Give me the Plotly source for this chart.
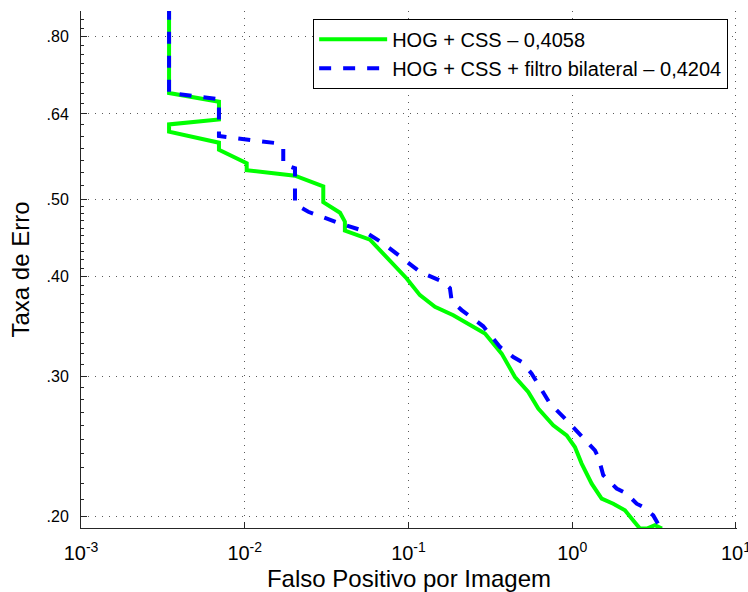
import plotly.graph_objects as go

# Miss-rate vs. false-positives-per-image curves (log-log)
hog_css_fppi = [0.00345, 0.00345, 0.00696, 0.00696, 0.00345, 0.00345, 0.00696, 0.00696,
                0.01028, 0.01028, 0.02027, 0.03018, 0.03018, 0.0382, 0.0409, 0.0409,
                0.0582, 0.0736, 0.0975, 0.1175, 0.1451, 0.1878, 0.2932, 0.3709, 0.4472,
                0.539, 0.6205, 0.766, 0.925, 1.039, 1.142, 1.315, 1.513, 1.781, 2.099,
                2.36, 2.593, 2.86, 3.20, 3.532]
hog_css_miss = [1.0, 0.680, 0.663, 0.630, 0.621, 0.608, 0.589, 0.577,
                0.555, 0.544, 0.5355, 0.519, 0.496, 0.481, 0.4688, 0.4567,
                0.445, 0.4234, 0.3978, 0.379, 0.3664, 0.3577, 0.3392, 0.3201, 0.2992,
                0.2865, 0.2731, 0.2602, 0.2527, 0.2443, 0.2329, 0.2198, 0.2105, 0.2074, 0.2035,
                0.1976, 0.193, 0.193, 0.1949, 0.193]

bilateral_fppi = [0.00345, 0.00345, 0.00696, 0.00696, 0.01603, 0.01719, 0.01719, 0.02027,
                  0.02027, 0.02444, 0.0382, 0.053, 0.0702, 0.0930, 0.1175, 0.1632, 0.1792,
                  0.1836, 0.2113, 0.2862, 0.362, 0.4365, 0.4913, 0.5655, 0.7314, 0.925,
                  1.168, 1.377, 1.443, 1.548, 1.868, 2.150, 2.475, 2.716, 3.126, 3.435]
bilateral_miss = [1.0, 0.680, 0.668, 0.6005, 0.5878, 0.580, 0.5535, 0.547,
                  0.493, 0.4824, 0.4664, 0.4565, 0.4402, 0.4214, 0.4055, 0.3939, 0.3868,
                  0.3725, 0.363, 0.3464, 0.3263, 0.317, 0.3125, 0.3021, 0.2771, 0.264,
                  0.2503, 0.242, 0.2373, 0.2252, 0.2167, 0.2136, 0.2074, 0.2054, 0.2005, 0.1938]

series_names = ["HOG + CSS \u2013 0,4058", "HOG + CSS + filtro bilateral \u2013 0,4204"]

x_tickvals = [0.001, 0.01, 0.1, 1, 10]
x_ticktext = ["10<sup>-3</sup>", "10<sup>-2</sup>", "10<sup>-1</sup>",
              "10<sup>0</sup>", "10<sup>1</sup>"]
y_tickvals = [0.20, 0.30, 0.40, 0.50, 0.64, 0.80]
y_ticktext = [".20", ".30", ".40", ".50", ".64", ".80"]
y_minor = ([round(0.20 + 0.01 * i, 2) for i in range(31)] +
           [round(0.52 + 0.02 * i, 2) for i in range(18)])

FONT = "Liberation Sans, Arial, Helvetica, sans-serif"
AXIS_COL = "#262626"
GRID_COL = "#5a5a5a"

fig = go.Figure()
fig.add_trace(go.Scatter(
    x=hog_css_fppi, y=hog_css_miss, mode="lines", name=series_names[0],
    line=dict(color="#00ff00", width=4)))
fig.add_trace(go.Scatter(
    x=bilateral_fppi, y=bilateral_miss, mode="lines", name=series_names[1],
    line=dict(color="#0000ff", width=4, dash="dash")))

fig.update_layout(
    width=748, height=592,
    margin=dict(l=81, r=11, t=11, b=64, autoexpand=False),
    paper_bgcolor="white", plot_bgcolor="white",
    font=dict(family=FONT, color="#000000", size=16),
    showlegend=True,
    legend=dict(
        x=0.9865, y=0.985, xanchor="right", yanchor="top",
        bgcolor="white", bordercolor="#000000", borderwidth=1,
        font=dict(size=20, family=FONT, color="#000000"),
        itemwidth=68, tracegroupgap=0,
    ),
)

# the upper bound sits a hair past 10^1 so its dotted grid line is kept
fig.update_xaxes(
    type="log", range=[-3, 1.0065], automargin=False,
    tickmode="array", tickvals=x_tickvals, ticktext=x_ticktext,
    ticks="inside", ticklen=6, tickcolor=AXIS_COL, tickwidth=1,
    showline=True, linecolor=AXIS_COL, linewidth=1, mirror=False,
    showgrid=True, gridcolor=GRID_COL, gridwidth=1, griddash="1px,6px",
    zeroline=False,
    ticklabelstandoff=7, ticklabeloverflow="allow",
    tickfont=dict(size=20, family=FONT, color="#000000"),
    title=dict(text="Falso Positivo por Imagem", standoff=9,
               font=dict(size=24, family=FONT, color="#000000")),
)

fig.update_yaxes(
    type="log", range=[-0.7137, -0.0645], automargin=False,
    tickmode="array", tickvals=y_tickvals, ticktext=y_ticktext,
    ticks="inside", ticklen=6, tickcolor=AXIS_COL, tickwidth=1,
    minor=dict(tickmode="array", tickvals=y_minor, ticks="inside", ticklen=3,
               tickcolor=AXIS_COL, showgrid=False),
    showline=True, linecolor=AXIS_COL, linewidth=1, mirror=False,
    showgrid=True, gridcolor=GRID_COL, gridwidth=1, griddash="1px,6px",
    zeroline=False,
    ticklabelstandoff=8,
    tickfont=dict(size=16, family=FONT, color="#000000"),
    title=dict(text="Taxa de Erro", standoff=10,
               font=dict(size=24, family=FONT, color="#000000")),
)

fig.write_html("out.html")
